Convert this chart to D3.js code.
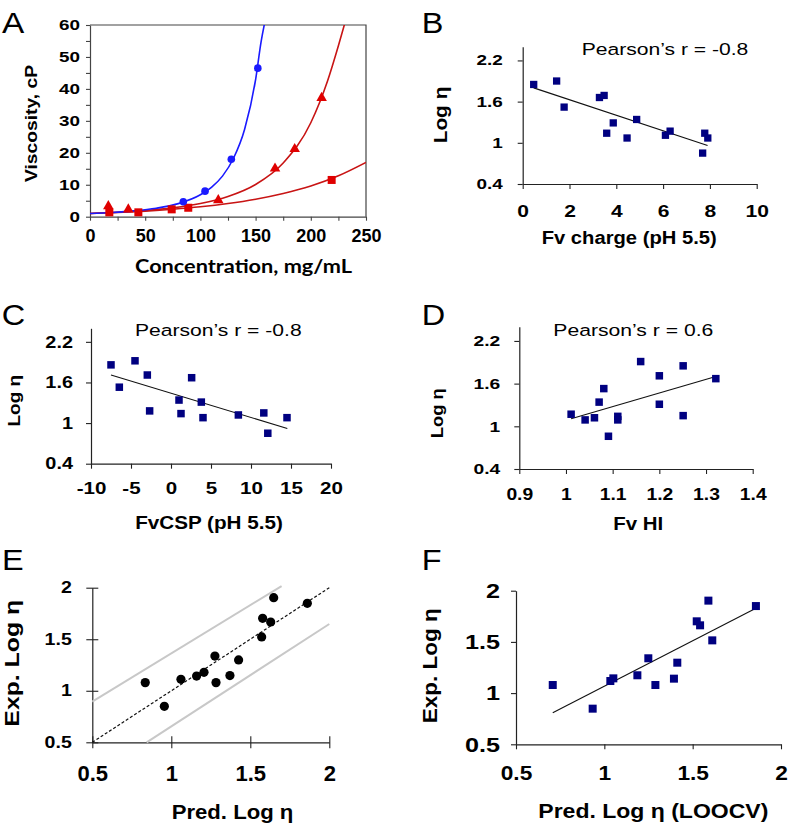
<!DOCTYPE html>
<html><head><meta charset="utf-8">
<script src="https://cdn.jsdelivr.net/npm/d3@7"></script>
<style>body{margin:0;background:#fff} svg{display:block}</style>
</head><body>
<svg id="c" width="796" height="835"></svg>
<script>
// ---------- Panel A data ----------
const concBlue = [84.5, 104.2, 128, 152];
const viscBlue = [4.7, 8.0, 18, 46.5];
const concTri = [16.6, 34.7, 116.2, 167.6, 185.4, 209.8];
const viscTri = [3.3, 2.3, 5.2, 15.1, 21.2, 37.2];
const concSq = [17.5, 43.8, 74, 89, 218.9];
const viscSq = [1.37, 1.37, 2.3, 2.8, 11.5];
// fitted curves
const fitBlueX = [0, 20, 40, 60, 80, 100, 110, 120, 130, 140, 150, 155, 159];
const fitBlueY = [1.0, 1.32, 1.83, 2.65, 4.09, 6.85, 9.2, 12.7, 18.3, 27.3, 42.9, 54.8, 62];
const fitTriX = [0, 25, 50, 75, 100, 125, 150, 175, 200, 215, 225, 232];
const fitTriY = [1.0, 1.37, 1.92, 2.77, 4.11, 6.31, 10.07, 16.8, 29.4, 42.3, 53.5, 62];
const fitSqX = [0, 25, 50, 75, 100, 125, 150, 175, 200, 225, 250];
const fitSqY = [1.0, 1.33, 1.76, 2.34, 3.1, 4.12, 5.47, 7.26, 9.6, 12.8, 17.0];
const ticksAX = [0, 25, 50, 75, 100, 125, 150, 175, 200, 225, 250];
const ticksAY = [0, 5, 10, 15, 20, 25, 30, 35, 40, 45, 50, 55, 60];

// ---------- Panel B ----------
const xB = [0.47, 1.45, 1.77, 3.28, 3.48, 3.59, 3.87, 4.46, 4.87, 6.10, 6.30, 7.78, 7.91, 7.69];
const yB = [1.85, 1.90, 1.52, 1.66, 1.69, 1.14, 1.29, 1.07, 1.34, 1.11, 1.17, 1.14, 1.07, 0.85];
const trendBX = [0.47, 7.9], trendBY = [1.80, 0.96];
const ticksBX = [0, 2, 4, 6, 8, 10];
const ticksLogEta = [0.4, 1, 1.6, 2.2];

// ---------- Panel C ----------
const xC = [-7.5, -6.46, -4.5, -2.96, -2.67, 1.0, 1.25, 2.58, 3.79, 4.0, 8.42, 11.6, 12.1, 14.5];
const yC = [1.86, 1.53, 1.92, 1.71, 1.18, 1.34, 1.14, 1.67, 1.31, 1.08, 1.12, 1.15, 0.85, 1.08];
const trendCX = [-7.5, 14.54], trendCY = [1.71, 0.92];
const ticksCX = [-10, -5, 0, 5, 10, 15, 20];

// ---------- Panel D ----------
const xD = [1.011, 1.041, 1.061, 1.071, 1.081, 1.091, 1.111, 1.111, 1.16, 1.20, 1.20, 1.251, 1.251, 1.321];
const yD = [1.17, 1.09, 1.12, 1.34, 1.53, 0.86, 1.14, 1.09, 1.91, 1.71, 1.31, 1.85, 1.15, 1.67];
const trendDX = [1.011, 1.321], trendDY = [1.106, 1.70];
const ticksDX = [0.9, 1, 1.1, 1.2, 1.3, 1.4];

// ---------- Panel E ----------
const xE = [0.835, 0.956, 1.061, 1.160, 1.207, 1.276, 1.283, 1.371, 1.426, 1.572, 1.578, 1.629, 1.648, 1.861];
const yE = [1.079, 0.849, 1.111, 1.143, 1.179, 1.337, 1.079, 1.147, 1.299, 1.522, 1.703, 1.667, 1.903, 1.848];
const identX = [0.5, 2], identY = [0.5, 2];
const upperX = [0.5, 1.698], upperY = [0.894, 2.016];
const lowerX = [0.844, 2.0], lowerY = [0.5, 1.648];
const ticksPred = [0.5, 1, 1.5, 2];

// ---------- Panel F ----------
const xF = [0.708, 0.934, 1.034, 1.051, 1.187, 1.249, 1.289, 1.394, 1.413, 1.523, 1.542, 1.589, 1.611, 1.858];
const yF = [1.079, 0.848, 1.118, 1.144, 1.174, 1.340, 1.079, 1.141, 1.297, 1.701, 1.662, 1.903, 1.515, 1.850];
const trendFX = [0.708, 1.858], trendFY = [0.809, 1.828];

// ================= drawing =================
const svg = d3.select("#c");
const ARIAL = "'Liberation Sans', Arial, Helvetica, sans-serif";
const NAVY = "#000080";

function stretch(sel, k) {
  sel.each(function () {
    const t = d3.select(this);
    const x = +t.attr("x") || 0;
    t.attr("x", x / k).attr("transform", `scale(${k},1)`);
  });
}

function label(txt, x, y, o) {
  const g = svg.append("g").attr("transform", `translate(${x},${y})` + (o.rot ? " rotate(-90)" : ""));
  const t = g.append("text").text(txt)
    .attr("font-family", o.family || ARIAL)
    .attr("font-size", o.size)
    .attr("font-weight", o.weight || "normal")
    .attr("text-anchor", o.anchor || "middle")
    .attr("fill", "#000");
  if (o.len) t.attr("textLength", o.len).attr("lengthAdjust", "spacingAndGlyphs");
  if (o.k) t.attr("transform", `scale(${o.k},1)`);
  return t;
}

function makeAxes(x, y, o) {
  const gy = svg.append("g").attr("transform", `translate(${x.range()[0]},0)`)
    .call(d3.axisLeft(y).tickValues(o.yTicks).tickFormat(o.yFmt || String)
      .tickSize(o.yTick || 5).tickPadding(o.yPad).tickSizeOuter(0));
  const gx = svg.append("g").attr("transform", `translate(0,${y.range()[0]})`)
    .call(d3.axisBottom(x).tickValues(o.xTicks).tickFormat(o.xFmt || String)
      .tickSize(o.xTick || 5).tickPadding(o.xPad).tickSizeOuter(0));
  [gy, gx].forEach(g => {
    g.attr("font-family", ARIAL).attr("font-weight", "bold");
    g.selectAll("path.domain").attr("stroke", o.axisColor || "#222").attr("stroke-width", 1.2);
    g.selectAll(".tick line").attr("stroke", o.axisColor || "#222").attr("stroke-width", 1.1);
    g.selectAll("text").attr("fill", "#000");
  });
  gy.attr("font-size", o.yFont); gx.attr("font-size", o.xFont);
  stretch(gy.selectAll("text"), o.yK || 1.2);
  stretch(gx.selectAll("text"), o.xK || 1.2);
  return { gx, gy };
}

function squares(x, y, xs, ys, s) {
  svg.append("g").selectAll("rect").data(xs.map((d, i) => [d, ys[i]])).join("rect")
    .attr("x", d => x(d[0]) - s / 2).attr("y", d => y(d[1]) - s / 2)
    .attr("width", s).attr("height", s).attr("fill", NAVY);
}

function segment(x, y, xs, ys, attrs) {
  const p = svg.append("path")
    .attr("d", d3.line()(xs.map((d, i) => [x(d), y(ys[i])])))
    .attr("fill", "none");
  Object.entries(attrs).forEach(([k, v]) => p.attr(k, v));
  return p;
}

// ---------- Panel A ----------
{
  const x = d3.scaleLinear().domain([0, 250]).range([90, 366]);
  const y = d3.scaleLinear().domain([0, 60]).range([216.7, 25]);
  // frame top/right
  svg.append("path").attr("d", `M${x(0)},${y(60)}H${x(250)}V${y(0)}`)
    .attr("fill", "none").attr("stroke", "#444").attr("stroke-width", 1.2);
  const ax = makeAxes(x, y, {
    xTicks: ticksAX, yTicks: ticksAY,
    xFmt: d => (d % 50 === 0 ? String(d) : ""), yFmt: d => (d % 10 === 0 ? String(d) : ""),
    xTick: 4, yTick: 4, xPad: 9, yPad: 6, xFont: 18, yFont: 14.5, xK: 1.0, yK: 1.3, axisColor: "#444"
  });
  const clipId = "clipA";
  svg.append("clipPath").attr("id", clipId).append("rect")
    .attr("x", x(0)).attr("y", y(60)).attr("width", x(250) - x(0)).attr("height", y(0) - y(60));
  const line = d3.line().curve(d3.curveMonotoneX);
  const gc = svg.append("g").attr("clip-path", `url(#${clipId})`);
  gc.append("path").attr("d", line(fitSqX.map((d, i) => [x(d), y(fitSqY[i])])))
    .attr("fill", "none").attr("stroke", "#c81414").attr("stroke-width", 1.6);
  gc.append("path").attr("d", line(fitTriX.map((d, i) => [x(d), y(fitTriY[i])])))
    .attr("fill", "none").attr("stroke", "#c81414").attr("stroke-width", 1.6);
  gc.append("path").attr("d", line(fitBlueX.map((d, i) => [x(d), y(fitBlueY[i])])))
    .attr("fill", "none").attr("stroke", "#1a1aff").attr("stroke-width", 1.6);
  // markers
  svg.append("g").selectAll("path").data(concTri.map((d, i) => [d, viscTri[i]])).join("path")
    .attr("d", d3.symbol(d3.symbolTriangle, 48)).attr("fill", "#e00000")
    .attr("transform", d => `translate(${x(d[0])},${y(d[1])})`);
  svg.append("g").selectAll("rect").data(concSq.map((d, i) => [d, viscSq[i]])).join("rect")
    .attr("x", d => x(d[0]) - 4).attr("y", d => y(d[1]) - 4).attr("width", 8).attr("height", 8)
    .attr("fill", "#e00000");
  svg.append("g").selectAll("circle").data(concBlue.map((d, i) => [d, viscBlue[i]])).join("circle")
    .attr("cx", d => x(d[0])).attr("cy", d => y(d[1])).attr("r", 3.8).attr("fill", "#1a1aff");
  label("A", 2, 33, { size: 29, anchor: "start", k: 1.15 });
  label("Viscosity, cP", 36.5, 123.5, { size: 17, weight: "bold", rot: true, len: 117 });
  label("Concentration, mg/mL", 243.5, 273, { size: 19.5, weight: "bold", len: 217, family: "Lato, 'Open Sans', sans-serif" });
}

// ---------- Panel B ----------
{
  const x = d3.scaleLinear().domain([0, 10]).range([522.7, 756.7]);
  const y = d3.scaleLinear().domain([0.4, 2.4]).range([184, 46.7]);
  makeAxes(x, y, { xTicks: ticksBX, yTicks: ticksLogEta, xPad: 16, yPad: 15, xFont: 16.3, yFont: 14, xK: 1.29, yK: 1.35 });
  segment(x, y, trendBX, trendBY, { stroke: "#111", "stroke-width": 1.1 });
  squares(x, y, xB, yB, 7.3);
  label("B", 421.7, 33, { size: 29, anchor: "start", k: 1.12 });
  label("Pearson’s r = -0.8", 665, 55, { size: 16.3, len: 166.7 });
  label("Log η", 447, 115, { size: 18, weight: "bold", rot: true, len: 56.7 });
  label("Fv charge (pH 5.5)", 629.2, 244, { size: 18, weight: "bold", len: 175 });
}

// ---------- Panel C ----------
{
  const x = d3.scaleLinear().domain([-10, 20]).range([91, 331]);
  const y = d3.scaleLinear().domain([0.4, 2.4]).range([463.7, 328.3]);
  makeAxes(x, y, { xTicks: ticksCX, yTicks: ticksLogEta, xPad: 14, yPad: 13, xFont: 15.8, yFont: 16.3, xK: 1.3, yK: 1.22 });
  segment(x, y, trendCX, trendCY, { stroke: "#111", "stroke-width": 1.1 });
  squares(x, y, xC, yC, 7.5);
  label("C", 1.7, 325, { size: 29, anchor: "start", k: 1.12 });
  label("Pearson’s r = -0.8", 218.3, 336, { size: 16.3, len: 166.7 });
  label("Log η", 20, 400.7, { size: 17, weight: "bold", rot: true, len: 51.7 });
  label("FvCSP (pH 5.5)", 209, 529.3, { size: 17.7, weight: "bold", len: 147.7 });
}

// ---------- Panel D ----------
{
  const x = d3.scaleLinear().domain([0.9, 1.4]).range([519.3, 752.7]);
  const y = d3.scaleLinear().domain([0.4, 2.4]).range([469, 326.7]);
  makeAxes(x, y, { xTicks: ticksDX, yTicks: ticksLogEta, xPad: 14, yPad: 14, xFont: 16.8, yFont: 15.4, xK: 1.15, yK: 1.25 });
  segment(x, y, trendDX, trendDY, { stroke: "#111", "stroke-width": 1.1 });
  squares(x, y, xD, yD, 7.5);
  label("D", 421.7, 325, { size: 29, anchor: "start", k: 1.12 });
  label("Pearson’s r = 0.6", 633.3, 336, { size: 16.3, len: 160 });
  label("Log η", 443, 413.3, { size: 17, weight: "bold", rot: true, len: 50 });
  label("Fv HI", 638.3, 530, { size: 18.6, weight: "bold", len: 50 });
}

// ---------- Panel E ----------
{
  const x = d3.scaleLinear().domain([0.5, 2]).range([92.3, 329.3]);
  const y = d3.scaleLinear().domain([0.5, 2]).range([742.3, 587.7]);
  const ax = makeAxes(x, y, { xTicks: ticksPred, yTicks: ticksPred, xTick: 6, yTick: 6, xPad: 17.5, yPad: 14.5, xFont: 22, yFont: 16.3, xK: 1.0, yK: 1.2 });
  ax.gy.selectAll(".tick line").attr("x1", 6);
  ax.gx.selectAll(".tick line").attr("y1", -6);
  segment(x, y, upperX, upperY, { stroke: "#c8c8c8", "stroke-width": 2 });
  segment(x, y, lowerX, lowerY, { stroke: "#c8c8c8", "stroke-width": 2 });
  segment(x, y, identX, identY, { stroke: "#111", "stroke-width": 1.2, "stroke-dasharray": "3,2" });
  svg.append("g").selectAll("circle").data(xE.map((d, i) => [d, yE[i]])).join("circle")
    .attr("cx", d => x(d[0])).attr("cy", d => y(d[1])).attr("r", 4.6).attr("fill", "#000");
  label("E", 2, 570, { size: 29, anchor: "start", k: 1.12 });
  label("Exp. Log η", 19, 663.3, { size: 20, weight: "bold", rot: true, len: 126.7 });
  label("Pred. Log η", 232.5, 819, { size: 20, weight: "bold", len: 121.7 });
}

// ---------- Panel F ----------
{
  const x = d3.scaleLinear().domain([0.5, 2]).range([516, 781]);
  const y = d3.scaleLinear().domain([0.5, 2]).range([744.3, 590.7]);
  makeAxes(x, y, { xTicks: ticksPred, yTicks: ticksPred, xPad: 15.7, yPad: 11, xFont: 21, yFont: 21, xK: 1.08, yK: 1.2 });
  segment(x, y, trendFX, trendFY, { stroke: "#111", "stroke-width": 1.1 });
  squares(x, y, xF, yF, 8);
  label("F", 421.7, 570, { size: 29, anchor: "start", k: 1.12 });
  label("Exp. Log η", 437, 665.8, { size: 20, weight: "bold", rot: true, len: 115 });
  label("Pred. Log η (LOOCV)", 653.3, 818, { size: 21, weight: "bold", len: 230 });
}
</script>
</body></html>
